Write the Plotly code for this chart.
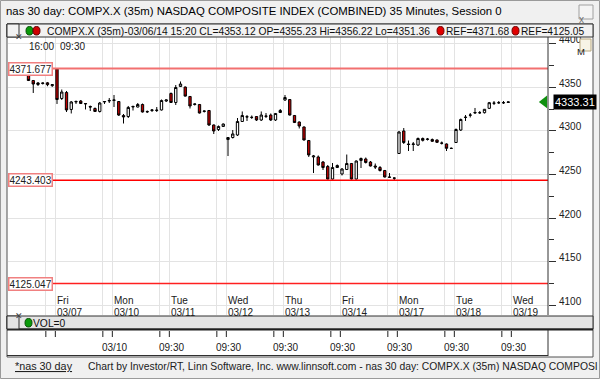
import plotly.graph_objects as go

W, H = 600, 379

# ---------------- data (35-minute bars, COMPX.X) ----------------
open_ = [4364.2, 4357.9, 4353.3, 4354.5, 4355.23, 4352.0,
         4371.1, 4337.3, 4344.2, 4324.7, 4333.3, 4334.4, 4331.5, 4328.1, 4325.8, 4322.4, 4333.3, 4334.4,
         4335.0, 4333.8, 4317.8, 4316.6, 4327.5, 4327.5, 4330.4, 4322.4, 4323.5, 4323.5, 4324.1, 4334.4,
         4343.0, 4332.7, 4351.0, 4350.4, 4339.6, 4330.4, 4330.4, 4322.4, 4323.5, 4306.9, 4301.7, 4305.2,
         4290.2, 4292.5, 4295.4, 4310.9, 4316.05, 4315.5, 4316.6, 4312.6, 4317.2, 4318.3, 4312.6, 4321.2,
         4335.6, 4336.1, 4317.8, 4310.3, 4304.6, 4289.1, 4270.2, 4270.2, 4264.4, 4259.3, 4244.9, 4258.1,
         4250.7, 4255.8, 4262.7, 4244.9, 4266.2, 4267.9, 4264.4, 4259.85, 4258.1, 4254.7, 4247.2, 4246.1,
         4274.2, 4300.0, 4285.1, 4284.5, 4283.9, 4291.4, 4290.8, 4290.2, 4289.7, 4286.2, 4285.1, 4280.15,
         4286.8, 4301.1, 4315.5, 4318.1, 4320.6, 4320.9, 4321.0, 4326.0, 4331.8, 4332.3, 4332.5, 4332.7]
high = [4365.4, 4358.5, 4356.2, 4355.6, 4356.22, 4353.6,
        4371.68, 4347.6, 4345.9, 4334.4, 4335.0, 4335.5, 4332.1, 4329.2, 4327.0, 4333.3, 4334.4, 4337.8,
        4341.3, 4334.4, 4319.5, 4328.7, 4329.2, 4332.1, 4331.5, 4323.5, 4325.2, 4327.5, 4336.1, 4336.1,
        4344.2, 4352.75, 4356.8, 4351.0, 4340.1, 4331.5, 4331.0, 4323.5, 4324.1, 4307.45, 4306.3, 4308.6,
        4293.1, 4301.1, 4314.9, 4322.4, 4318.3, 4317.8, 4317.2, 4322.4, 4320.6, 4320.1, 4320.6, 4325.2,
        4341.3, 4336.7, 4318.3, 4310.9, 4305.2, 4289.7, 4272.5, 4271.9, 4265.6, 4261.0, 4263.3, 4261.6,
        4257.55, 4273.0, 4263.3, 4266.2, 4269.6, 4269.6, 4265.6, 4262.7, 4259.85, 4255.3, 4251.8, 4246.7,
        4300.0, 4303.4, 4289.1, 4287.4, 4292.5, 4292.5, 4292.0, 4291.4, 4290.2, 4287.95, 4285.7, 4281.1,
        4302.9, 4314.3, 4318.3, 4320.6, 4326.4, 4322.9, 4325.2, 4333.3, 4334.4, 4334.4, 4334.4, 4333.8]
low = [4357.3, 4343.6, 4351.6, 4353.3, 4351.36, 4350.6,
       4331.0, 4335.6, 4321.8, 4320.1, 4331.0, 4331.0, 4324.7, 4322.9, 4321.8, 4321.2, 4331.0, 4332.1,
       4327.5, 4317.2, 4308.6, 4314.9, 4323.5, 4327.0, 4321.2, 4320.6, 4321.8, 4321.8, 4323.5, 4333.3,
       4332.1, 4329.8, 4350.5, 4339.6, 4325.8, 4329.2, 4320.1, 4321.2, 4305.7, 4296.55, 4300.0, 4304.6,
       4271.3, 4291.4, 4294.3, 4310.3, 4311.5, 4313.8, 4311.5, 4311.5, 4314.9, 4311.5, 4311.5, 4320.6,
       4334.4, 4317.8, 4309.2, 4302.9, 4289.1, 4270.2, 4251.8, 4260.4, 4255.3, 4244.4, 4244.4, 4257.55,
       4249.0, 4255.3, 4244.4, 4244.4, 4257.55, 4262.7, 4259.3, 4256.4, 4253.5, 4246.7, 4246.1, 4243.4,
       4273.6, 4285.1, 4277.05, 4277.05, 4282.8, 4287.95, 4289.1, 4287.4, 4286.2, 4284.5, 4277.05, 4279.35,
       4286.2, 4300.0, 4311.5, 4315.5, 4319.5, 4319.5, 4320.1, 4325.2, 4329.8, 4331.0, 4331.0, 4332.1]
close = [4357.9, 4353.9, 4355.1, 4355.0, 4353.12, 4353.2,
         4336.1, 4344.7, 4324.1, 4333.3, 4333.8, 4331.5, 4331.2, 4327.5, 4322.4, 4332.1, 4333.8, 4335.0,
         4335.6, 4318.3, 4316.1, 4327.0, 4328.1, 4330.4, 4321.8, 4322.0, 4324.1, 4323.9, 4335.0, 4335.6,
         4332.7, 4349.9, 4353.9, 4340.0, 4328.7, 4331.0, 4320.6, 4322.9, 4306.9, 4300.0, 4305.2, 4308.0,
         4292.5, 4296.6, 4310.9, 4317.8, 4316.3, 4315.7, 4312.6, 4318.3, 4316.9, 4312.6, 4320.1, 4323.5,
         4338.4, 4318.3, 4309.7, 4305.7, 4289.7, 4272.5, 4271.3, 4261.0, 4258.1, 4244.9, 4258.1, 4260.4,
         4256.4, 4262.7, 4244.9, 4265.6, 4268.45, 4263.9, 4259.85, 4258.7, 4254.7, 4247.2, 4246.9, 4245.9,
         4298.85, 4286.8, 4284.5, 4285.1, 4291.4, 4289.3, 4290.5, 4288.2, 4287.0, 4286.0, 4280.15, 4280.0,
         4301.7, 4313.2, 4315.8, 4318.3, 4321.2, 4321.0, 4324.9, 4332.45, 4332.0, 4332.5, 4332.4, 4333.31]

header_bar = 4                      # bar shown in the header read-out (03/06/14 15:20)
ref_levels = [4371.677, 4243.403, 4125.047]
ref_header = [4371.68, 4125.05]
day_names = ["Fri", "Mon", "Tue", "Wed", "Thu", "Fri", "Mon", "Tue", "Wed"]
day_dates = ["03/07", "03/10", "03/11", "03/12", "03/13", "03/14", "03/17", "03/18", "03/19"]
bars_before_first_day = 6
bars_per_day = 12
price_ticks = [4100, 4150, 4200, 4250, 4300, 4350, 4400]
top_time_labels = ["16:00", "09:30"]
vol_labels = ["03/10", "09:30", "09:30", "09:30", "09:30", "09:30", "09:30", "09:30"]

FONT = "Liberation Sans"

def px(x):
    return x / W

def py(y):
    return 1 - y / H

n = len(close)
xs = list(range(n))
day_start = [bars_before_first_day + bars_per_day * d for d in range(len(day_dates))]
grid_pos = []
for s in day_start:
    grid_pos += [s - 2.35, s - 0.35]

fig = go.Figure()
fig.add_trace(go.Candlestick(
    x=xs, open=open_, high=high, low=low, close=close,
    increasing=dict(line=dict(color="black", width=1), fillcolor="white"),
    decreasing=dict(line=dict(color="black", width=1), fillcolor="#c00000"),
    whiskerwidth=0, hoverinfo="skip", showlegend=False))

# last price arrow
fig.add_trace(go.Scatter(x=[108.6], y=[close[-1]], mode="markers",
                         marker=dict(symbol="triangle-left", size=11, color="#109010"),
                         cliponaxis=False, hoverinfo="skip", showlegend=False))

shapes = []
ann = []

# outer window border
shapes.append(dict(type="rect", xref="paper", yref="paper", x0=px(0.5), x1=px(599.5), y0=py(378.5), y1=py(0.5),
                   line=dict(color="#9a9a9a", width=1), layer="below"))
# chart frame backgrounds
shapes.append(dict(type="rect", xref="paper", yref="paper", x0=px(7), x1=px(593), y0=py(357), y1=py(24),
                   fillcolor="white", line=dict(color="#505050", width=1), layer="below"))

# REF lines
ref_colors = ["#f27070", "#ff0000", "#ff2020"]
ref_widths = [2, 1.5, 1.5]
for lv, c, w in zip(ref_levels, ref_colors, ref_widths):
    shapes.append(dict(type="line", xref="paper", yref="y", x0=px(8), x1=px(548), y0=lv, y1=lv,
                       line=dict(color=c, width=w), layer="above"))
    ann.append(dict(xref="paper", yref="y", x=px(8), y=lv, xanchor="left", yanchor="middle",
                    text=f"{lv:.3f}", showarrow=False, bgcolor="white", bordercolor="#f08080",
                    borderwidth=1.5, borderpad=0, font=dict(family=FONT, size=10, color="#202020")))

# header bar (top)
shapes.append(dict(type="rect", xref="paper", yref="paper", x0=px(7), x1=px(593), y0=py(37), y1=py(24),
                   fillcolor="#f2f2f2", line=dict(color="#303030", width=1), layer="above"))
shapes.append(dict(type="rect", xref="paper", yref="paper", x0=px(7), x1=px(19), y0=py(37), y1=py(24),
                   fillcolor="#f2f2f2", line=dict(color="#303030", width=1), layer="above"))
ann.append(dict(xref="paper", yref="paper", x=px(13), y=py(30.5), text="✕", showarrow=False,
                font=dict(family="DejaVu Sans", size=9, color="#404040")))
shapes.append(dict(type="circle", xref="paper", yref="paper", x0=px(26), x1=px(33), y0=py(35), y1=py(26.5),
                   fillcolor="#0a9a0a", line=dict(color="#055005", width=1), layer="above"))
shapes.append(dict(type="circle", xref="paper", yref="paper", x0=px(33), x1=px(40), y0=py(35), y1=py(26.5),
                   fillcolor="#d00000", line=dict(color="#600000", width=1), layer="above"))
b = header_bar
ann.append(dict(xref="paper", yref="paper", x=px(45), y=py(31), xanchor="left", yanchor="middle",
                text=f"COMPX.X (35m)-03/06/14 15:20 CL={close[b]:.2f} OP={open_[b]:.2f} Hi={high[b]:.2f} Lo={low[b]:.2f}",
                showarrow=False, font=dict(family=FONT, size=10.3, color="#101010")))
for xd, xt, rv in [(437, 444, ref_header[0]), (512, 519, ref_header[1])]:
    shapes.append(dict(type="circle", xref="paper", yref="paper", x0=px(xd), x1=px(xd + 7), y0=py(35), y1=py(26.5),
                       fillcolor="#e00000", line=dict(color="#700000", width=1), layer="above"))
    ann.append(dict(xref="paper", yref="paper", x=px(xt), y=py(31), xanchor="left", yanchor="middle",
                    text=f"REF={rv:.2f}", showarrow=False, font=dict(family=FONT, size=10.2, color="#101010")))

# M button
shapes.append(dict(type="rect", xref="paper", yref="paper", x0=px(580), x1=px(591), y0=py(51), y1=py(39),
                   fillcolor="#f7f3e6", line=dict(color="#b8a880", width=1), layer="above"))
ann.append(dict(xref="paper", yref="paper", x=px(585.5), y=py(45), text="M", showarrow=False, borderpad=0,
                font=dict(family=FONT, size=9.5, color="#202020")))

# right axis separator
shapes.append(dict(type="line", xref="paper", yref="paper", x0=px(548), x1=px(548), y0=py(315), y1=py(37),
                   line=dict(color="#303030", width=1), layer="above"))

# top time labels
for lab, xl in zip(top_time_labels, [27, 58]):
    ann.append(dict(xref="paper", yref="paper", x=px(xl), y=py(46), xanchor="left", yanchor="middle",
                    text=lab, showarrow=False, font=dict(family=FONT, size=10, color="#202020")))

# day labels
for s, dn, dd in zip(day_start, day_names, day_dates):
    ann.append(dict(xref="x", yref="paper", x=s, y=py(300), xanchor="left", yanchor="middle", xshift=-2,
                    text=dn, showarrow=False, font=dict(family=FONT, size=10, color="#202020")))
    ann.append(dict(xref="x", yref="paper", x=s, y=py(312), xanchor="left", yanchor="middle", xshift=-2,
                    text=dd, showarrow=False, font=dict(family=FONT, size=10, color="#202020")))

# last price label
ann.append(dict(xref="paper", yref="y", x=px(553), y=close[-1], xanchor="left", yanchor="middle",
                text=f"{close[-1]:.2f}", showarrow=False, bgcolor="black", borderpad=1,
                font=dict(family=FONT, size=11, color="white")))

# volume pane header
shapes.append(dict(type="rect", xref="paper", yref="paper", x0=px(7), x1=px(593), y0=py(329), y1=py(316),
                   fillcolor="#e4e4e4", line=dict(color="#303030", width=1), layer="above"))
shapes.append(dict(type="line", xref="paper", yref="paper", x0=px(7), x1=px(593), y0=py(329.5), y1=py(329.5),
                   line=dict(color="#202020", width=2), layer="above"))
shapes.append(dict(type="rect", xref="paper", yref="paper", x0=px(7), x1=px(19), y0=py(329), y1=py(316),
                   fillcolor="#e4e4e4", line=dict(color="#303030", width=1), layer="above"))
ann.append(dict(xref="paper", yref="paper", x=px(13), y=py(322.5), text="✕", showarrow=False,
                font=dict(family="DejaVu Sans", size=9, color="#404040")))
shapes.append(dict(type="circle", xref="paper", yref="paper", x0=px(25), x1=px(32), y0=py(327), y1=py(318.5),
                   fillcolor="#0a9a0a", line=dict(color="#055005", width=1), layer="above"))
ann.append(dict(xref="paper", yref="paper", x=px(31), y=py(323), xanchor="left", yanchor="middle",
                text="VOL=0", showarrow=False, font=dict(family=FONT, size=10.3, color="#101010")))

# volume pane frame
shapes.append(dict(type="line", xref="paper", yref="paper", x0=px(548), x1=px(548), y0=py(356), y1=py(330),
                   line=dict(color="#303030", width=1), layer="above"))
shapes.append(dict(type="line", xref="paper", yref="paper", x0=px(7), x1=px(548), y0=py(355.5), y1=py(355.5),
                   line=dict(color="#303030", width=1), layer="above"))
for g in grid_pos:
    shapes.append(dict(type="line", xref="x", yref="paper", x0=g, x1=g, y0=py(331), y1=py(337),
                       line=dict(color="#202020", width=1), layer="above"))
for lab, g in zip(vol_labels, grid_pos[2::2]):
    ann.append(dict(xref="x", yref="paper", x=g, y=py(347), xanchor="left", yanchor="middle", xshift=-3,
                    text=lab, showarrow=False, font=dict(family=FONT, size=10, color="#202020")))

# title bar
ann.append(dict(xref="paper", yref="paper", x=px(4), y=py(11), xanchor="left", yanchor="middle",
                text="nas 30 day: COMPX.X (35m) NASDAQ COMPOSITE INDEX (COMBINED) 35 Minutes, Session 0",
                showarrow=False, font=dict(family=FONT, size=11.4, color="#000000")))
shapes.append(dict(type="rect", xref="paper", yref="paper", x0=px(579), x1=px(593), y0=py(19), y1=py(5),
                   fillcolor="#f4f4f4", line=dict(color="#a0a0a0", width=1), layer="above"))
ann.append(dict(xref="paper", yref="paper", x=px(586), y=py(12), text="x", showarrow=False,
                font=dict(family=FONT, size=10, color="#707070")))

# footer
ann.append(dict(xref="paper", yref="paper", x=px(13), y=py(366), xanchor="left", yanchor="middle",
                text="<u>*nas 30 day</u>", showarrow=False, font=dict(family=FONT, size=10.8, color="#202020")))
ann.append(dict(xref="paper", yref="paper", x=px(86), y=py(366), xanchor="left", yanchor="middle",
                text="Chart by Investor/RT, Linn Software, Inc. www.linnsoft.com - nas 30 day: COMPX.X (35m) NASDAQ COMPOSI",
                showarrow=False, font=dict(family=FONT, size=10.35, color="#202020")))

ymin = 4450.25 - 1.147 * 315
ymax = 4450.25 - 1.147 * 37
fig.update_layout(
    width=W, height=H, margin=dict(l=0, r=0, t=0, b=0, autoexpand=False),
    paper_bgcolor="#f0f0f0", plot_bgcolor="white",
    shapes=shapes, annotations=ann, showlegend=False,
    xaxis=dict(domain=[px(8), px(548)], range=[(8 - 28.5) / 4.75, (548 - 28.5) / 4.75],
               rangeslider=dict(visible=False), tickvals=grid_pos, showticklabels=False, ticks="",
               showgrid=True, gridcolor="#e3e3e3", gridwidth=1, zeroline=False, fixedrange=True,
               automargin=False),
    yaxis=dict(domain=[py(315), py(37)], range=[ymin, ymax], side="right",
               tickvals=price_ticks, ticks="outside", ticklen=7, tickcolor="#303030",
               ticklabelshift=-4, ticklabelstandoff=1,
               tickfont=dict(family=FONT, size=10, color="#202020"),
               minor=dict(tickvals=[t + 25 for t in price_ticks[:-1]], ticks="outside", ticklen=5,
                          tickcolor="#303030", showgrid=False),
               showgrid=True, gridcolor="#e3e3e3", zeroline=False, fixedrange=True,
               automargin=False),
)

fig.write_html("out.html", config={"displayModeBar": False, "staticPlot": True},
               post_script="document.body.style.margin='0';document.body.style.overflow='hidden';")
